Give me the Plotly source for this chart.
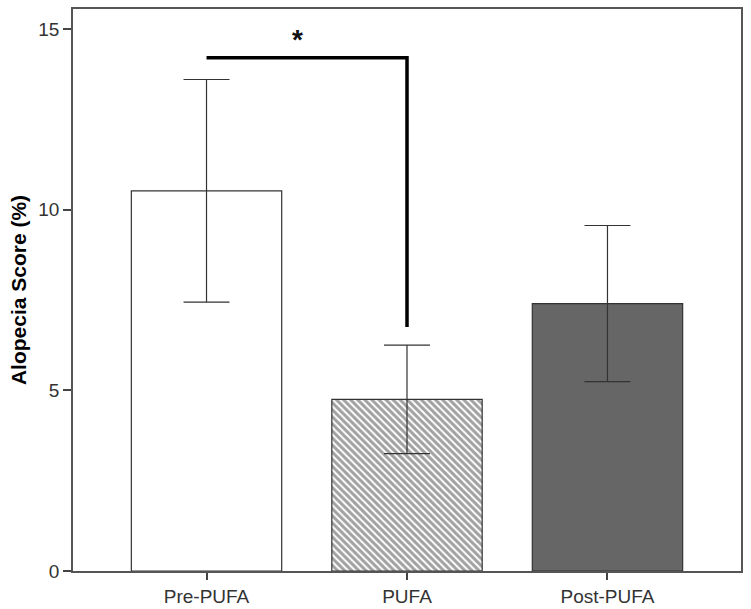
import plotly.graph_objects as go

categories = ["Pre-PUFA", "PUFA", "Post-PUFA"]
means = [10.52, 4.75, 7.40]
errors = [3.08, 1.50, 2.16]
fill_colors = ["#ffffff", "#ffffff", "#666666"]
patterns = ["", "\\", ""]
y_ticks = [0, 5, 10, 15]

# significance bracket (Pre-PUFA vs PUFA)
sig_level = 14.2
sig_drop_to = 6.75
sig_label = "*"

FONT = "Liberation Sans, Arial, sans-serif"

fig = go.Figure()
fig.add_trace(go.Bar(
    x=categories,
    y=means,
    width=0.75,
    marker=dict(
        color=fill_colors,
        line=dict(color="#333333", width=1.2),
        pattern=dict(shape=patterns, size=5, solidity=0.6, fgcolor="#111111", bgcolor="#ffffff"),
    ),
    error_y=dict(type="data", array=errors, visible=True, color="#333333", thickness=1.2, width=23),
    showlegend=False,
))

fig.add_shape(
    type="path",
    path=f"M 0,{sig_level} L 1,{sig_level} L 1,{sig_drop_to}",
    xref="x", yref="y",
    line=dict(color="#000000", width=3.5),
)
fig.add_annotation(
    x=0.455, y=sig_level, xref="x", yref="y",
    text="<b>" + sig_label + "</b>", showarrow=False, yshift=18,
    font=dict(family=FONT, size=28, color="#111111"),
)

fig.update_layout(
    width=751, height=609,
    margin=dict(l=73, r=10, t=9, b=38, autoexpand=False),
    paper_bgcolor="white", plot_bgcolor="white",
    font=dict(family=FONT, size=19, color="#333333"),
)
fig.update_xaxes(
    range=[-0.666, 2.666], automargin=False,
    showline=True, linecolor="#555555", linewidth=1.5, mirror=True,
    ticks="outside", ticklen=7, tickcolor="#444444", tickwidth=1.5,
    showgrid=False, zeroline=False,
    tickfont=dict(family=FONT, size=19, color="#333333"),
)
fig.update_yaxes(
    range=[0, 15.55], automargin=False,
    tickvals=y_ticks,
    showline=True, linecolor="#555555", linewidth=1.5, mirror=True,
    ticks="outside", ticklen=8, tickcolor="#444444", tickwidth=1.5,
    showgrid=False, zeroline=False,
    tickfont=dict(family=FONT, size=19, color="#333333"),
    title=dict(text="<b>Alopecia Score (%)</b>", standoff=6,
               font=dict(family=FONT, size=21, color="#000000")),
)

fig.write_html(
    "out.html",
    config={"displayModeBar": False},
    post_script="document.body.style.margin='0';document.body.style.overflow='hidden';",
)
